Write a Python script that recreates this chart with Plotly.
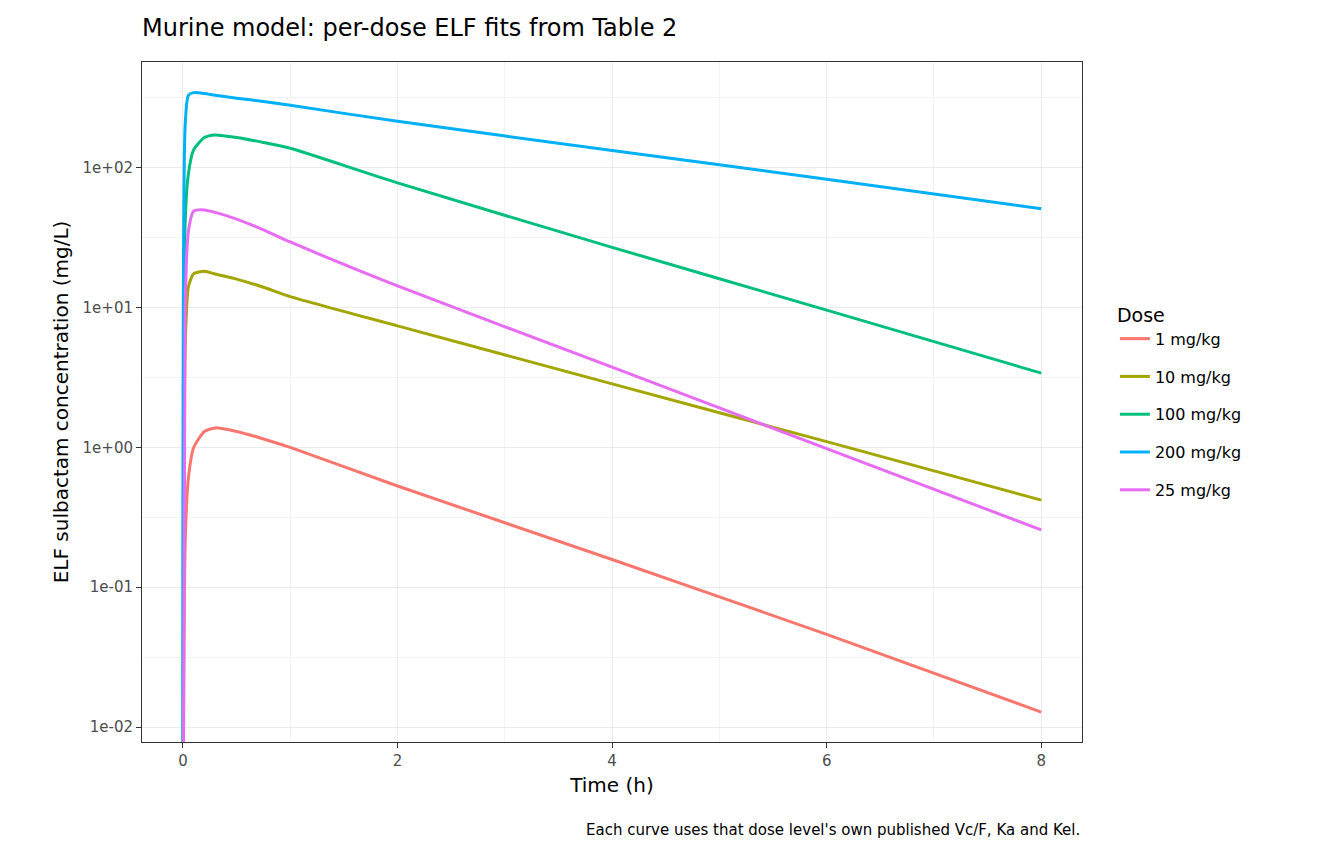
import plotly.graph_objects as go

# time points (h) and values (mg/L)
time_h = [0, 0.02, 0.05, 0.1, 0.2, 0.3, 0.5, 0.75, 1, 2, 4, 6, 8]
dose_labels = ["1 mg/kg", "10 mg/kg", "100 mg/kg", "200 mg/kg", "25 mg/kg"]
conc_1 = [0.001, 0.2, 0.6, 1.0, 1.3, 1.38, 1.3, 1.15, 1.0, 0.53, 0.158, 0.046, 0.0128]
conc_10 = [0.001, 5, 14, 17.5, 18.2, 17.4, 16, 14, 12, 7.4, 2.85, 1.1, 0.42]
conc_100 = [0.001, 40, 90, 135, 165, 172, 165, 152, 138, 78, 27, 9.6, 3.4]
conc_200 = [0.001, 200, 330, 345, 340, 330, 315, 298, 280, 215, 133, 83, 51]
conc_25 = [0.001, 10, 35, 49, 50, 48, 43, 36, 29.5, 14.3, 3.75, 0.98, 0.257]
colors = ["#F8766D", "#A3A500", "#00BF7D", "#00B0F6", "#E76BF3"]

y_ticks = [0.01, 0.1, 1, 10, 100]
y_labels = ["1e-02", "1e-01", "1e+00", "1e+01", "1e+02"]
y_minor = [0.0316, 0.316, 3.16, 31.6, 316]

fig = go.Figure()
for lab, vals, col in zip(dose_labels, [conc_1, conc_10, conc_100, conc_200, conc_25], colors):
    fig.add_trace(go.Scatter(x=time_h, y=vals, name=lab, mode="lines", legendgroup=lab,
                             line=dict(color=col, width=3, shape="spline", smoothing=0.6)))

fig.update_layout(
    width=1328, height=848,
    paper_bgcolor="white", plot_bgcolor="white",
    margin=dict(l=134, r=254, t=54, b=114),
    font=dict(family="DejaVu Sans", size=16, color="black"),
    title=dict(text="Murine model: per-dose ELF fits from Table 2", x=134/1328, xanchor="left",
               y=1-20/848, yanchor="middle", font=dict(size=24)),
    legend=dict(title=dict(text="Dose", font=dict(size=19)), x=1.035, y=0.5, yanchor="middle",
                font=dict(size=16), tracegroupgap=14),
    annotations=[dict(text="Each curve uses that dose level's own published Vc/F, Ka and Kel.",
                      xref="paper", yref="paper", x=1, y=-0.13, xanchor="right", yanchor="middle",
                      showarrow=False, font=dict(size=15))],
)
fig.update_xaxes(range=[-0.382, 8.38], tickvals=[0, 2, 4, 6, 8], showgrid=True, gridcolor="#EBEBEB",
                 gridwidth=1.3, zeroline=False, showline=True, linecolor="#333333", mirror=True,
                 ticks="outside", tickcolor="#333333", ticklen=5, tickfont=dict(size=15, color="#4D4D4D"),
                 title=dict(text="Time (h)", font=dict(size=20), standoff=8),
                 minor=dict(tickvals=[1, 3, 5, 7], showgrid=True, gridcolor="#F3F3F3", ticks=""))
fig.update_yaxes(type="log", range=[-2.107, 2.757], tickvals=y_ticks, ticktext=y_labels,
                 showgrid=True, gridcolor="#EBEBEB", gridwidth=1.3, zeroline=False, showline=True,
                 linecolor="#333333", mirror=True, ticks="outside", tickcolor="#333333", ticklen=5,
                 tickfont=dict(size=15, color="#4D4D4D"),
                 title=dict(text="ELF sulbactam concentration (mg/L)", font=dict(size=20), standoff=8),
                 minor=dict(tickvals=y_minor, showgrid=True, gridcolor="#F3F3F3", ticks=""))

fig.write_html("out.html")
